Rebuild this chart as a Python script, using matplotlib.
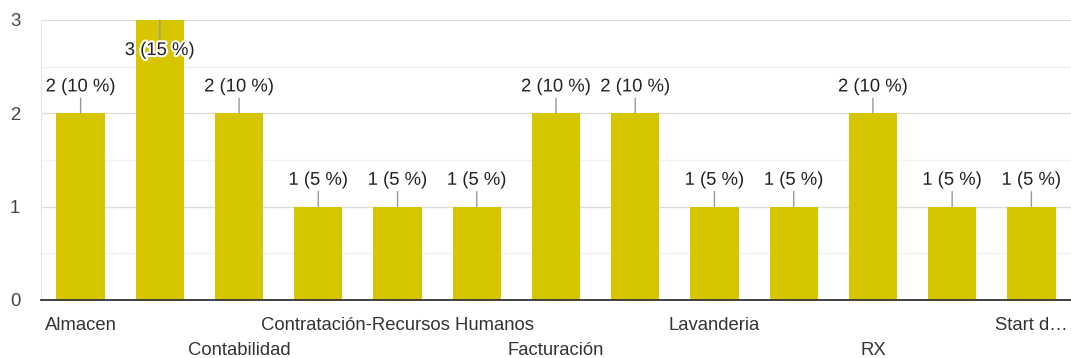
import matplotlib
matplotlib.use("Agg")
import matplotlib.pyplot as plt
import matplotlib.patheffects as pe
import numpy as np

plt.rcParams['font.family'] = ['Liberation Sans', 'DejaVu Sans']

# Respuestas por área (solo se muestran etiquetas alternas en el eje)
areas = ['Almacen', '', 'Contabilidad', '', 'Contratación-Recursos Humanos', '',
         'Facturación', '', 'Lavanderia', '', 'RX', '', 'Start d…']
conteos = [2, 3, 2, 1, 1, 1, 2, 2, 1, 1, 2, 1, 1]
total = sum(conteos)

color_barra = '#d5c600'
fs = 13.3

fig = plt.figure(figsize=(10.71, 3.58), dpi=100)
ax = fig.add_axes([41 / 1071, 1 - 300 / 358, 1 - 41 / 1071, 280 / 358])

x = np.arange(len(conteos))
ax.bar(x, conteos, width=0.61, color=color_barra, zorder=2)

ax.set_xlim(-0.5, len(conteos) - 0.5)
ax.set_ylim(0, 3)

# Cuadrícula
ax.set_yticks([0, 1, 2, 3])
ax.set_yticks([0.5, 1.5, 2.5], minor=True)
ax.grid(axis='y', which='major', color='#dddddd', linewidth=1, zorder=0)
ax.grid(axis='y', which='minor', color='#f2f2f2', linewidth=1, zorder=0)
ax.tick_params(axis='y', which='both', length=0, pad=15, labelsize=fs, labelcolor='#444444')

for lado in ['top', 'right']:
    ax.spines[lado].set_visible(False)
ax.spines['left'].set_color('#e6e6e6')
ax.spines['bottom'].set_color('#333333')
ax.spines['bottom'].set_linewidth(1.3)
ax.spines['bottom'].set_zorder(3)

# Etiquetas del eje x en dos filas alternas
fila1 = [i for i in x if i % 4 == 0]
fila2 = [i for i in x if i % 4 == 2]
ax.set_xticks(fila1, [areas[i] for i in fila1])
ax.set_xticks(fila2, [areas[i] for i in fila2], minor=True)
ax.tick_params(axis='x', which='major', length=0, pad=12, labelsize=fs, labelcolor='#333333')
ax.tick_params(axis='x', which='minor', length=0, pad=30, labelsize=fs, labelcolor='#333333')

# Etiquetas de valor con línea guía
halo = [pe.withStroke(linewidth=3, foreground='white')]
maximo = max(conteos)
for i, v in zip(x, conteos):
    texto = f'{v} ({v * 100 // total} %)'
    dy = -22 if v == maximo else 19
    ax.annotate(texto, xy=(i, v), xytext=(0, dy), textcoords='offset points',
                ha='center', va='center', fontsize=fs, color='#222222',
                path_effects=halo, zorder=4,
                arrowprops=dict(arrowstyle='-', color='#999999', lw=1,
                                shrinkA=0, shrinkB=0))

fig.savefig('out.png', dpi=100)
